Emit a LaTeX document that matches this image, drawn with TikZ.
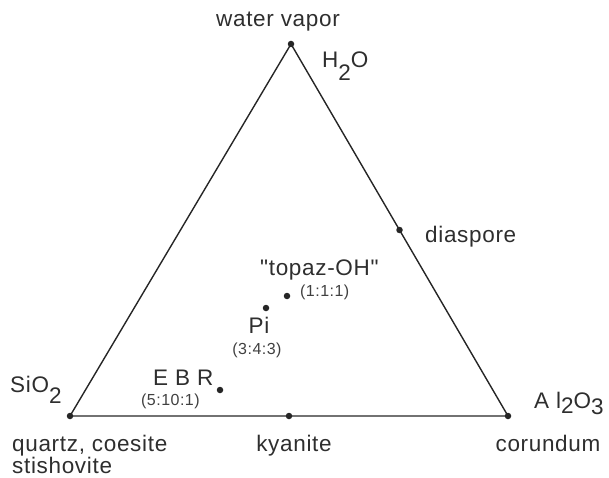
\documentclass[tikz,border=0pt]{standalone}
\usepackage{fontspec}
\newfontfamily\lib{Liberation Sans}[LetterSpace=3]
\usetikzlibrary{calc}
\begin{document}
\begin{tikzpicture}[x=1pt,y=-1pt,
  edge/.style={line width=1.4pt, draw=black!85},
  dotnode/.style={circle, fill=black!85, inner sep=0pt, minimum size=6.5pt},
  lbl/.style={inner sep=0pt, font=\lib\fontsize{22.5}{26}\selectfont, text=black!82},
  small/.style={inner sep=0pt, font=\lib\fontsize{16}{19}\selectfont, text=black!75}]
\useasboundingbox (0,0) rectangle (609,478);
% vertices
\node[dotnode] (T) at (291,44) {};
\node[dotnode] (L) at (70,416) {};
\node[dotnode] (R) at (508,416) {};
\draw[edge] (T.center) -- (L.center) -- (R.center) -- cycle;
% points
\node[dotnode] (ky) at ($(L)!0.5!(R)$) {};
\node[dotnode] (di) at ($(T)!0.5!(R)$) {};
\node[dotnode] (tz) at (287,296) {};
\node[dotnode] (pi) at (266,308) {};
\node[dotnode] (ebr) at (220,390) {};
% labels
\node[lbl, anchor=base] (wv) at (278,27) {water vapor};
\node[lbl, anchor=base west] (h2o) at (322,68) {H\raisebox{-0.55em}{2}O};
\node[lbl, anchor=base west] (dia) at (425,242) {diaspore};
\node[lbl, anchor=base west] (tzl) at (260,275) {"topaz-OH"};
\node[small, anchor=west] (tzr) at (300,292) {(1:1:1)};
\node[lbl, anchor=base] (pil) at (259,333) {Pi};
\node[small, anchor=center] (pir) at (257,350) {(3:4:3)};
\node[lbl, anchor=base west] (ebl) at (153,385) {E B R};
\node[small, anchor=west] (ebrr) at (141,401) {(5:10:1)};
\node[lbl, anchor=base west] (si) at (10,392) {SiO\raisebox{-0.5em}{2}};
\node[lbl, anchor=base west] (al) at (534,408) {A l\raisebox{-0.25em}{2}O\raisebox{-0.3em}{3}};
\node[lbl, anchor=base west] (qz) at (12,451) {quartz, coesite};
\node[lbl, anchor=base west] (st) at (12,473) {stishovite};
\node[lbl, anchor=base] (kyl) at (294,451) {kyanite};
\node[lbl, anchor=base] (co) at (548,451) {corundum};
\end{tikzpicture}
\end{document}
